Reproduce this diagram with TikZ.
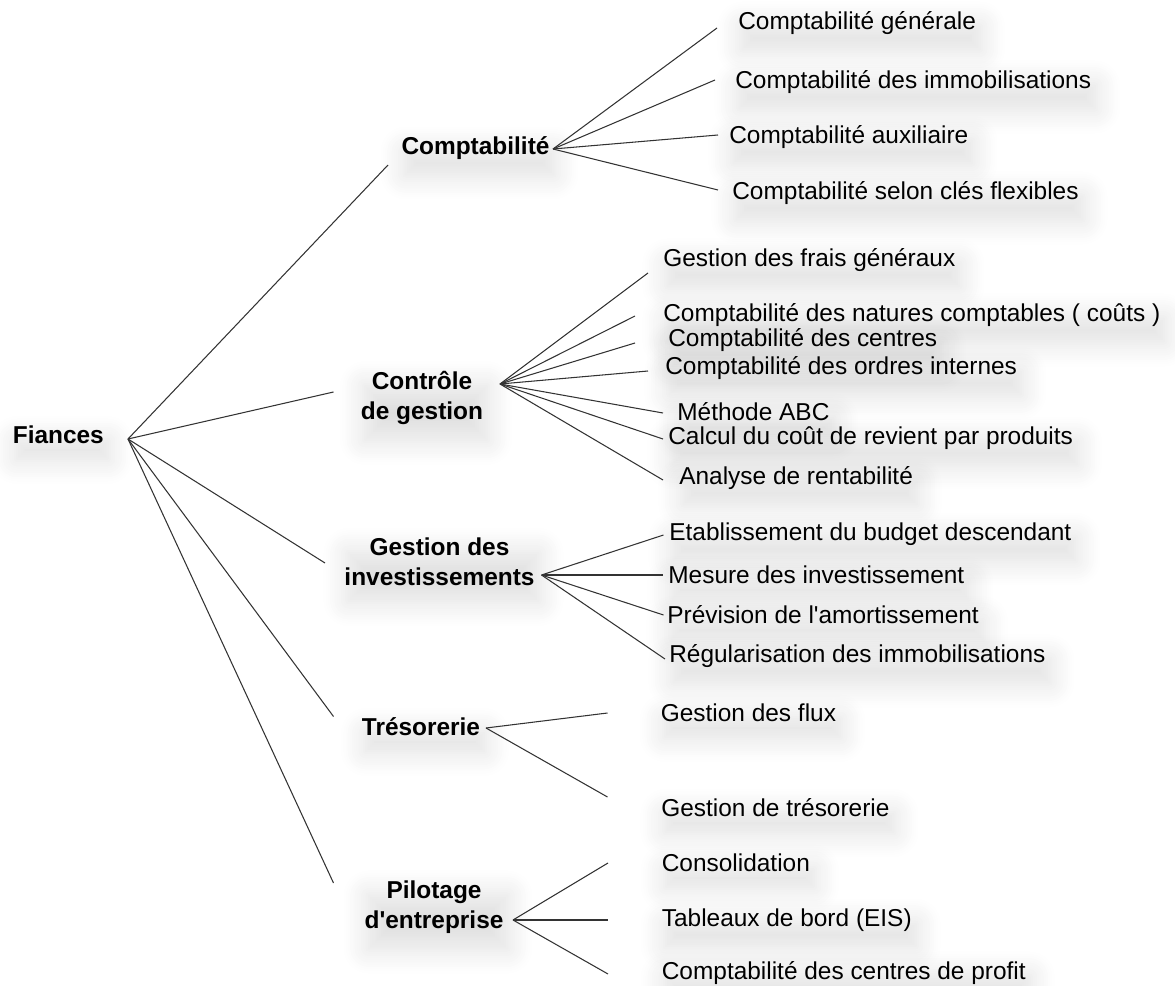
\documentclass[tikz,border=0pt]{standalone}
\usepackage{fontspec}
\setmainfont{Liberation Sans}
\usetikzlibrary{positioning, shadows.blur}

\tikzset{
    % text styles
    rootbox/.style={
        font=\fontsize{13.9}{16}\selectfont\bfseries,
        inner sep=0pt,
        anchor=west,
        softshadow
    },
    branch/.style={
        font=\fontsize{13.9}{17.3}\selectfont\bfseries,
        inner sep=0pt,
        align=center,
        softshadow
    },
    leaf/.style={
        font=\fontsize{13.9}{16}\selectfont,
        inner sep=0pt,
        anchor=west,
        softshadow
    },
    softshadow/.style={
        blur shadow={shadow xshift=0.08cm, shadow yshift=-0.3cm,
            shadow blur radius=0.5cm, shadow blur steps=12, shadow opacity=13}
    },
    % connector style
    link/.style={
        draw=black!80,
        line width=0.6pt
    }
}

\begin{document}
\begin{tikzpicture}
    \useasboundingbox (0,0) rectangle (23.5,-19.72);

    % Root
    \node[rootbox] (fin) at (0.25,-8.7) {Fiances};
    \coordinate (fin-o) at (2.56,-8.78);

    % Branches
    \node[branch] (compta) at (9.51,-2.96) {Comptabilité};
    \node[branch] (ctrl) at (8.44,-7.96) {Contrôle\\de gestion};
    \node[branch] (invest) at (8.79,-11.24) {Gestion des\\investissements};
    \node[branch] (treso) at (8.42,-14.54) {Trésorerie};
    \node[branch] (pilot) at (8.68,-18.14) {Pilotage\\d\textquotesingle entreprise};

    % Branch ends
    \coordinate (compta-i) at (7.76,-3.30);
    \coordinate (ctrl-i) at (6.67,-7.84);
    \coordinate (invest-i) at (6.50,-11.26);
    \coordinate (treso-i) at (6.67,-14.33);
    \coordinate (pilot-i) at (6.67,-17.66);

    \coordinate (compta-o) at (11.06,-2.98);
    \coordinate (ctrl-o) at (10.00,-7.68);
    \coordinate (invest-o) at (10.83,-11.50);
    \coordinate (treso-o) at (9.72,-14.56);
    \coordinate (pilot-o) at (10.26,-18.40);

    \foreach \b in {compta, ctrl, invest, treso, pilot}
        \draw[link] (fin-o) -- (\b-i);

    % Comptabilite
    \node[leaf] (cg1) at (14.76,-0.46) {Comptabilité générale};
    \node[leaf] (cg2) at (14.70,-1.64) {Comptabilité des immobilisations};
    \node[leaf] (cg3) at (14.58,-2.74) {Comptabilité auxiliaire};
    \node[leaf] (cg4) at (14.64,-3.86) {Comptabilité selon clés flexibles};
    \coordinate (cg1-i) at (14.34,-0.56);
    \coordinate (cg2-i) at (14.30,-1.60);
    \coordinate (cg3-i) at (14.36,-2.70);
    \coordinate (cg4-i) at (14.36,-3.80);

    % Controle de gestion
    \node[leaf] (cd1) at (13.26,-5.20) {Gestion des frais généraux};
    \node[leaf] (cd2) at (13.26,-6.30) {Comptabilité des natures comptables ( coûts )};
    \node[leaf] (cd3) at (13.36,-6.80) {Comptabilité des centres};
    \node[leaf] (cd4) at (13.30,-7.36) {Comptabilité des ordres internes};
    \node[leaf] (cd5) at (13.54,-8.24) {Méthode ABC};
    \node[leaf] (cd6) at (13.36,-8.76) {Calcul du coût de revient par produits};
    \node[leaf] (cd7) at (13.58,-9.56) {Analyse de rentabilité};
    \coordinate (cd1-i) at (12.96,-5.46);
    \coordinate (cd2-i) at (12.70,-6.32);
    \coordinate (cd3-i) at (12.70,-6.86);
    \coordinate (cd4-i) at (12.96,-7.42);
    \coordinate (cd5-i) at (13.26,-8.26);
    \coordinate (cd6-i) at (13.26,-8.78);
    \coordinate (cd7-i) at (13.26,-9.60);

    % Gestion des investissements
    \node[leaf] (gi1) at (13.38,-10.68) {Etablissement du budget descendant};
    \node[leaf] (gi2) at (13.36,-11.50) {Mesure des investissement};
    \node[leaf] (gi3) at (13.34,-12.30) {Prévision de l\textquotesingle amortissement};
    \node[leaf] (gi4) at (13.38,-13.12) {Régularisation des immobilisations};
    \coordinate (gi1-i) at (13.27,-10.70);
    \coordinate (gi2-i) at (13.26,-11.50);
    \coordinate (gi3-i) at (13.27,-12.30);
    \coordinate (gi4-i) at (13.30,-13.18);

    % Tresorerie
    \node[leaf] (tr1) at (13.21,-14.26) {Gestion des flux};
    \node[leaf] (tr2) at (13.22,-16.16) {Gestion de trésorerie};
    \coordinate (tr1-i) at (12.15,-14.26);
    \coordinate (tr2-i) at (12.15,-15.94);

    % Pilotage
    \node[leaf] (pe1) at (13.23,-17.26) {Consolidation};
    \node[leaf] (pe2) at (13.23,-18.40) {Tableaux de bord (EIS)};
    \node[leaf] (pe3) at (13.23,-19.46) {Comptabilité des centres de profit};
    \coordinate (pe1-i) at (12.16,-17.26);
    \coordinate (pe2-i) at (12.16,-18.40);
    \coordinate (pe3-i) at (12.16,-19.48);

    % Connectors
    \foreach \c in {cg1, cg2, cg3, cg4}
        \draw[link] (compta-o) -- (\c-i);
    \foreach \c in {cd1, cd2, cd3, cd4, cd5, cd6, cd7}
        \draw[link] (ctrl-o) -- (\c-i);
    \foreach \c in {gi1, gi2, gi3, gi4}
        \draw[link] (invest-o) -- (\c-i);
    \foreach \c in {tr1, tr2}
        \draw[link] (treso-o) -- (\c-i);
    \foreach \c in {pe1, pe2, pe3}
        \draw[link] (pilot-o) -- (\c-i);
\end{tikzpicture}
\end{document}
